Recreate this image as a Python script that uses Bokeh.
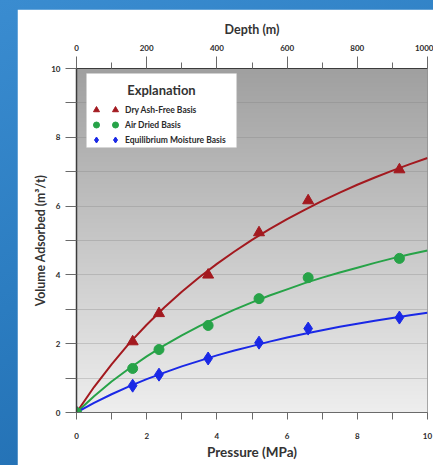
import numpy as np
from bokeh.plotting import figure
from bokeh.models import (LinearAxis, Range1d, FixedTicker, Legend, LegendItem,
                          Label, BoxAnnotation, GlobalInlineStyleSheet)
from bokeh.embed import file_html
from bokeh.resources import INLINE

# ---- data ----
pressure = [0, 1.6, 2.35, 3.75, 5.2, 6.6, 9.2]
dry_ash_free = [0, 2.06, 2.88, 4.0, 5.23, 6.16, 7.06]
air_dried = [0, 1.28, 1.83, 2.53, 3.31, 3.92, 4.48]
equilibrium_moisture = [0, 0.78, 1.1, 1.57, 2.03, 2.44, 2.76]

curve_pressure = [0, 0.5, 1, 1.5, 2, 2.5, 3, 3.5, 4, 4.5, 5, 5.5, 6, 6.5, 7,
                  7.5, 8, 8.5, 9, 9.5, 10]
dry_ash_free_fit = [0, 0.74, 1.40, 2.01, 2.55, 3.05, 3.51, 3.93, 4.32, 4.68, 5.02,
                    5.33, 5.62, 5.89, 6.15, 6.39, 6.62, 6.83, 7.03, 7.22, 7.40]
air_dried_fit = [0, 0.47, 0.90, 1.28, 1.63, 1.95, 2.24, 2.51, 2.76, 2.99, 3.20,
                 3.40, 3.58, 3.76, 3.92, 4.07, 4.21, 4.35, 4.48, 4.60, 4.71]
equilibrium_moisture_fit = [0, 0.28, 0.53, 0.76, 0.97, 1.16, 1.34, 1.50, 1.66, 1.80,
                            1.93, 2.06, 2.18, 2.29, 2.39, 2.49, 2.58, 2.67, 2.75,
                            2.83, 2.90]

series_labels = ["Dry Ash-Free Basis", "Air Dried Basis", "Equilibrium Moisture Basis"]
legend_title = "Explanation"

pressure_ticks = [0, 2, 4, 6, 8, 10]
pressure_minor = [1, 3, 5, 7, 9]
volume_ticks = [0, 2, 4, 6, 8, 10]
volume_minor = [1, 3, 5, 7, 9]
grid_lines = [1, 2, 3, 4, 5, 6, 7, 8, 9]
depth_ticks = [0, 200, 400, 600, 800, 1000]
depth_minor = [100, 300, 500, 700, 900]

RED = "#a3191f"
GREEN = "#27a348"
BLUE = "#1a28e6"
FONT = "Lato"
TXT = "#2b2b2b"

p = figure(width=416, height=456, output_backend="svg", toolbar_location=None,
           x_range=(0, 10), y_range=(0, 10),
           min_border_left=59, min_border_top=59, min_border_right=6,
           min_border_bottom=53)
p.margin = (9, 0, 0, 17)
p.stylesheets = [GlobalInlineStyleSheet(css=(
    "html,body{margin:0;padding:0;overflow:hidden;"
    "background:linear-gradient(160deg,#3a8cd0 0%,#2b7cc0 50%,#1f6aad 100%);}"))]
p.border_fill_color = "white"
p.background_fill_color = "#cfcfcf"
p.outline_line_color = "#8f8f8f"
p.outline_line_width = 1

# background gradient of the plotting area
h = 344
shade = np.linspace(238, 160, h).astype(np.uint32)
img = np.empty((h, 1), dtype=np.uint32)
view = img.view(dtype=np.uint8).reshape((h, 1, 4))
view[:, 0, 0] = shade
view[:, 0, 1] = shade
view[:, 0, 2] = shade
view[:, 0, 3] = 255
p.image_rgba(image=[img], x=0, y=0, dw=10, dh=10, level="image")

# grid
p.xgrid.visible = False
p.ygrid.ticker = FixedTicker(ticks=grid_lines)
p.ygrid.grid_line_color = "#7d7d7d"
p.ygrid.grid_line_alpha = 0.3
p.ygrid.grid_line_width = 1

# bottom axis
xa = p.xaxis[0]
xa.ticker = FixedTicker(ticks=pressure_ticks, minor_ticks=pressure_minor)
xa.axis_label = "Pressure (MPa)"
xa.axis_line_color = "#6a6a6a"
xa.major_tick_line_color = "#6a6a6a"
xa.minor_tick_line_color = "#6a6a6a"
xa.major_tick_out = 7
xa.major_tick_in = 0
xa.minor_tick_out = 7
xa.minor_tick_in = 0
xa.major_label_standoff = 13
xa.axis_label_standoff = 2
xa.axis_label_text_font_size = "13.5px"

# left axis
ya = p.yaxis[0]
ya.ticker = FixedTicker(ticks=volume_ticks, minor_ticks=volume_minor)
ya.axis_label = "Volume Adsorbed (m\u00b3/t)"
ya.axis_line_color = "#3c3c3c"
ya.axis_line_width = 1.5
ya.major_tick_line_color = "#6a6a6a"
ya.minor_tick_line_color = "#6a6a6a"
ya.major_tick_out = 11
ya.major_tick_in = 0
ya.minor_tick_out = 11
ya.minor_tick_in = 0
ya.major_label_standoff = 5
ya.axis_label_standoff = 0
ya.axis_label_text_font_size = "12.3px"

# top axis (depth)
p.extra_x_ranges = {"depth": Range1d(0, 1000)}
ta = LinearAxis(x_range_name="depth",
                ticker=FixedTicker(ticks=depth_ticks, minor_ticks=depth_minor),
                axis_label="Depth (m)")
ta.axis_line_color = "#3c3c3c"
ta.major_tick_line_color = "#6a6a6a"
ta.minor_tick_line_color = "#6a6a6a"
ta.major_tick_out = 12
ta.major_tick_in = 0
ta.minor_tick_out = 6
ta.minor_tick_in = 0
ta.major_label_standoff = 6
ta.axis_label_standoff = 5
ta.axis_label_text_font_size = "12.5px"
p.add_layout(ta, "above")

for ax in (xa, ya, ta):
    ax.major_label_text_font = FONT
    ax.major_label_text_font_style = "bold"
    ax.major_label_text_font_size = "8px"
    ax.major_label_text_color = TXT
    ax.axis_label_text_font = FONT
    ax.axis_label_text_font_style = "bold"
    ax.axis_label_text_color = "#333333"

# white panel behind the legend (in plot units)
p.add_layout(BoxAnnotation(left=0.285, right=4.56, bottom=7.70, top=9.855,
                           fill_color="white", fill_alpha=1,
                           line_color="#d0d0d0", line_width=1, level="underlay"))

# fitted curves
p.line(curve_pressure, dry_ash_free_fit, line_color=RED, line_width=2)
p.line(curve_pressure, air_dried_fit, line_color=GREEN, line_width=2)
p.line(curve_pressure, equilibrium_moisture_fit, line_color=BLUE, line_width=2)

# measured points
r_blue = p.scatter(pressure, equilibrium_moisture, marker="diamond",
                   size=13, fill_color=BLUE, line_color=BLUE)
r_red = p.scatter(pressure, dry_ash_free, marker="triangle", size=11,
                  fill_color=RED, line_color=RED)
r_green = p.scatter(pressure, air_dried, marker="circle", size=10,
                    fill_color=GREEN, line_color=GREEN)

renderers = [r_red, r_green, r_blue]

common = dict(orientation="vertical", glyph_width=20, glyph_height=15,
              label_height=15, spacing=0, padding=0, margin=0,
              background_fill_alpha=0, border_line_alpha=0)

legend_main = Legend(
    items=[LegendItem(label=l, renderers=[r]) for l, r in zip(series_labels, renderers)],
    location=(10, 265), title=" ", title_text_font=FONT, title_text_font_size="13px",
    title_standoff=13, label_standoff=19, label_width=111,
    label_text_font=FONT, label_text_font_style="bold",
    label_text_font_size="8.5px", label_text_color=TXT, **common)

legend_marks = Legend(
    items=[LegendItem(label=" ", renderers=[r]) for r in renderers],
    location=(29, 265), label_standoff=0, label_width=0,
    label_text_font_size="1px", **common)

p.add_layout(legend_main, "center")
p.add_layout(legend_marks, "center")

p.add_layout(Label(x=2.42, y=9.38, text=legend_title, text_align="center",
                   text_baseline="middle", text_font=FONT, text_font_style="bold",
                   text_font_size="13px", text_color="#333333"))

open("out.html", "w").write(file_html(p, INLINE))
